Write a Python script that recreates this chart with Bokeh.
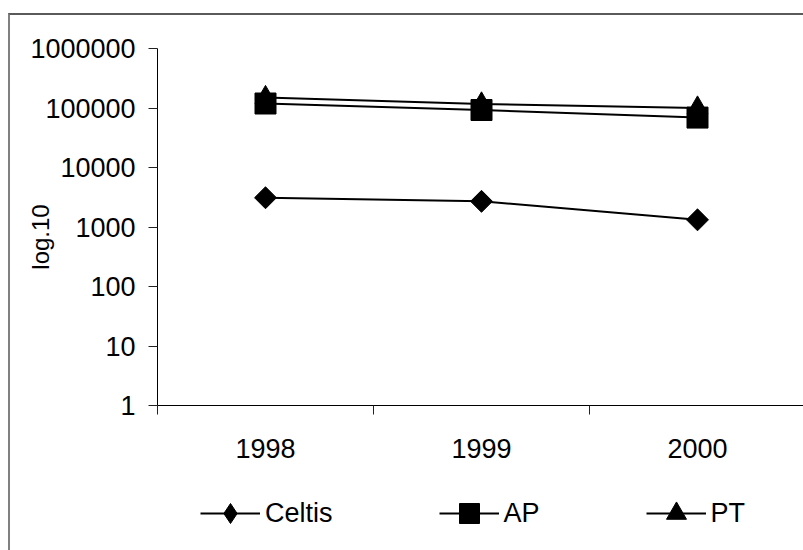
import math
from bokeh.plotting import figure
from bokeh.layouts import column
from bokeh.models import Range1d, FixedTicker, Legend, LegendItem
from bokeh.embed import file_html
from bokeh.resources import INLINE

# ---- data ----
years = [1998, 1999, 2000]
year_labels = ["1998", "1999", "2000"]
celtis = [3100, 2700, 1320]
ap = [119000, 92500, 69000]
pt = [150000, 117000, 100000]
y_ticks = [1, 10, 100, 1000, 10000, 100000, 1000000]
y_tick_labels = ["1", "10", "100", "1000", "10000", "100000", "1000000"]
series_names = ["Celtis", "AP", "PT"]
y_title = "log.10\u00a0\u00a0\u00a0"

FONT = "Liberation Sans"
FS = "27px"

W = 793
frame_w = 646  # pixels
p = figure(width=W, height=460, output_backend="svg", toolbar_location=None,
           x_range=Range1d(1997.5, 1997.5 + frame_w / 216.0),
           y_range=Range1d(1, 1e6), y_axis_type="log",
           min_border_left=147, min_border_top=33, min_border_bottom=70,
           min_border_right=0)
p.outline_line_color = None
p.xgrid.visible = False
p.ygrid.visible = False

# y axis
ya = p.yaxis[0]
ya.ticker = FixedTicker(ticks=y_ticks, minor_ticks=[])
ya.major_label_overrides = {t: l for t, l in zip(y_ticks, y_tick_labels)}
ya.major_tick_out = 9
ya.major_tick_in = 0
ya.major_tick_line_color = "#222222"
ya.axis_line_color = "black"
ya.major_label_standoff = 13
ya.major_label_text_font = FONT
ya.major_label_text_font_size = FS
ya.major_label_text_color = "black"
ya.axis_label = y_title
ya.axis_label_standoff = -27
ya.axis_label_text_font = FONT
ya.axis_label_text_font_size = "24px"
ya.axis_label_text_font_style = "normal"
ya.axis_label_text_color = "black"

# x axis
xa = p.xaxis[0]
xa.ticker = FixedTicker(ticks=years, minor_ticks=[y - 0.5 for y in years] + [years[-1] + 0.5])
xa.major_label_overrides = {y: l for y, l in zip(years, year_labels)}
xa.major_tick_out = 0
xa.major_tick_in = 0
xa.minor_tick_out = 9
xa.minor_tick_in = 0
xa.minor_tick_line_color = "#222222"
xa.axis_line_color = "black"
xa.major_label_standoff = 24
xa.major_label_text_font = FONT
xa.major_label_text_font_size = FS
xa.major_label_text_color = "black"

# series
p.line(years, celtis, line_color="black", line_width=2)
p.scatter(years, celtis, marker="square", angle=math.pi / 4, size=15.5,
          fill_color="black", line_color="black")
p.line(years, ap, line_color="black", line_width=2)
p.scatter(years, ap, marker="square", size=21, fill_color="black", line_color="black")
p.line(years, pt, line_color="black", line_width=2)
p.scatter(years, pt, marker="triangle", size=21, fill_color="black", line_color="black")

# ---- legend strip (same series, ranges keep them out of view) ----
p2 = figure(width=W, height=75, output_backend="svg", toolbar_location=None,
            x_range=Range1d(0, 1), y_range=Range1d(-1, 0),
            x_axis_location=None, y_axis_location=None,
            min_border_left=0, min_border_right=0, min_border_top=0, min_border_bottom=0)
p2.outline_line_color = None
p2.xgrid.visible = False
p2.ygrid.visible = False

l_c = p2.line(years, celtis, line_color="black", line_width=2)
m_c = p2.scatter(years, celtis, marker="diamond", size=21, fill_color="black", line_color="black")
l_a = p2.line(years, ap, line_color="black", line_width=2)
m_a = p2.scatter(years, ap, marker="square", size=21, fill_color="black", line_color="black")
l_p = p2.line(years, pt, line_color="black", line_width=2)
m_p = p2.scatter(years, pt, marker="triangle", size=21, fill_color="black", line_color="black")

legend = Legend(items=[
    LegendItem(label=series_names[0], renderers=[l_c, m_c]),
    LegendItem(label=series_names[1], renderers=[l_a, m_a]),
    LegendItem(label=series_names[2], renderers=[l_p, m_p]),
], orientation="horizontal", location=(43, 12), padding=0, spacing=106,
    glyph_width=60, glyph_height=50, label_standoff=5,
    label_text_font=FONT, label_text_font_size=FS, label_text_color="black",
    border_line_color=None, background_fill_alpha=0)
p2.add_layout(legend, "center")

layout = column(p, p2, spacing=0)
layout.margin = (13, 0, 0, 8)
layout.styles = {"border-top": "2px solid #5a5a5a", "border-left": "2px solid #808080"}

open("out.html", "w").write(file_html(layout, INLINE))
